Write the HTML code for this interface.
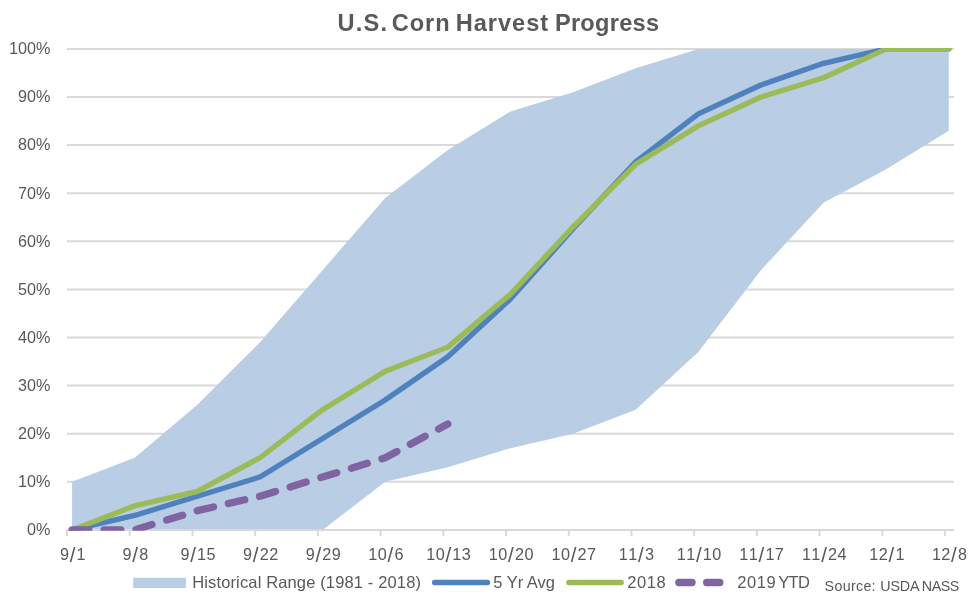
<!DOCTYPE html>
<html><head><meta charset="utf-8"><title>U.S. Corn Harvest Progress</title>
<style>
html,body{margin:0;padding:0;background:#fff;}
body{width:976px;height:601px;overflow:hidden;}
svg{display:block;}
text{font-family:"Liberation Sans",sans-serif;fill:#595959;}
.t{font-size:16.2px;}
</style></head><body>
<svg width="976" height="601" viewBox="0 0 976 601">
<defs><clipPath id="plot"><rect x="60" y="47.9" width="900" height="482.9"/></clipPath></defs>
<rect width="976" height="601" fill="#fff"/>
<g font-size="23.6" font-weight="bold">
<text x="337.4" y="31.4" textLength="49.6" lengthAdjust="spacing">U.S.</text>
<text x="391.7" y="31.4" textLength="58.0" lengthAdjust="spacing">Corn</text>
<text x="455.7" y="31.4" textLength="92.4" lengthAdjust="spacing">Harvest</text>
<text x="554.9" y="31.4" textLength="104.2" lengthAdjust="spacing">Progress</text>
</g>
<g stroke="#d9d9d9" stroke-width="2" fill="none">
<line x1="67" y1="529.90" x2="954" y2="529.90"/>
<line x1="67" y1="481.80" x2="954" y2="481.80"/>
<line x1="67" y1="433.70" x2="954" y2="433.70"/>
<line x1="67" y1="385.60" x2="954" y2="385.60"/>
<line x1="67" y1="337.50" x2="954" y2="337.50"/>
<line x1="67" y1="289.40" x2="954" y2="289.40"/>
<line x1="67" y1="241.30" x2="954" y2="241.30"/>
<line x1="67" y1="193.20" x2="954" y2="193.20"/>
<line x1="67" y1="145.10" x2="954" y2="145.10"/>
<line x1="67" y1="97.00" x2="954" y2="97.00"/>
<line x1="67" y1="48.90" x2="954" y2="48.90"/>
<line x1="67.05" y1="529.90" x2="67.05" y2="535.90"/>
<line x1="129.76" y1="529.90" x2="129.76" y2="535.90"/>
<line x1="192.47" y1="529.90" x2="192.47" y2="535.90"/>
<line x1="255.18" y1="529.90" x2="255.18" y2="535.90"/>
<line x1="317.89" y1="529.90" x2="317.89" y2="535.90"/>
<line x1="380.60" y1="529.90" x2="380.60" y2="535.90"/>
<line x1="443.31" y1="529.90" x2="443.31" y2="535.90"/>
<line x1="506.02" y1="529.90" x2="506.02" y2="535.90"/>
<line x1="568.73" y1="529.90" x2="568.73" y2="535.90"/>
<line x1="631.44" y1="529.90" x2="631.44" y2="535.90"/>
<line x1="694.15" y1="529.90" x2="694.15" y2="535.90"/>
<line x1="756.86" y1="529.90" x2="756.86" y2="535.90"/>
<line x1="819.57" y1="529.90" x2="819.57" y2="535.90"/>
<line x1="882.28" y1="529.90" x2="882.28" y2="535.90"/>
<line x1="944.99" y1="529.90" x2="944.99" y2="535.90"/>
</g>
<text class="t" x="50.4" y="535.20" text-anchor="end">0%</text>
<text class="t" x="50.4" y="487.10" text-anchor="end">10%</text>
<text class="t" x="50.4" y="439.00" text-anchor="end">20%</text>
<text class="t" x="50.4" y="390.90" text-anchor="end">30%</text>
<text class="t" x="50.4" y="342.80" text-anchor="end">40%</text>
<text class="t" x="50.4" y="294.70" text-anchor="end">50%</text>
<text class="t" x="50.4" y="246.60" text-anchor="end">60%</text>
<text class="t" x="50.4" y="198.50" text-anchor="end">70%</text>
<text class="t" x="50.4" y="150.40" text-anchor="end">80%</text>
<text class="t" x="50.4" y="102.30" text-anchor="end">90%</text>
<text class="t" x="50.4" y="54.20" text-anchor="end">100%</text>
<polygon points="72.10,481.80 134.72,457.75 197.34,404.84 259.96,342.31 322.58,270.16 385.20,198.01 447.82,149.91 510.44,111.43 573.06,92.19 635.68,68.14 698.30,48.90 760.92,48.90 823.54,48.90 886.16,48.90 948.78,48.90 948.78,130.67 886.16,169.15 823.54,202.82 760.92,270.16 698.30,351.93 635.68,409.65 573.06,433.70 510.44,448.13 447.82,467.37 385.20,481.80 322.58,529.90 259.96,529.90 197.34,529.90 134.72,529.90 72.10,529.90" fill="#b9cde5"/>
<line x1="67" y1="529.90" x2="954" y2="529.90" stroke="#d9d9d9" stroke-width="2"/>
<g clip-path="url(#plot)" fill="none" stroke-linecap="round" stroke-linejoin="round">
<polyline points="72.10,529.90 134.72,515.47 197.34,496.23 259.96,476.99 322.58,438.51 385.20,400.03 447.82,356.74 510.44,299.02 573.06,228.79 635.68,161.94 698.30,113.84 760.92,84.98 823.54,63.33 886.16,48.90 948.78,48.90" stroke="#4f81bd" stroke-width="5.33"/>
<polyline points="72.10,529.90 134.72,505.85 197.34,491.42 259.96,457.75 322.58,409.65 385.20,371.17 447.82,347.12 510.44,294.21 573.06,226.87 635.68,164.34 698.30,125.86 760.92,97.00 823.54,77.76 886.16,48.90 948.78,48.90" stroke="#9bbb59" stroke-width="5.33"/>
<polyline points="72.10,529.90 134.72,529.90 197.34,510.66 259.96,496.23 322.58,476.99 385.20,457.75 447.82,424.08" stroke="#8064a2" stroke-width="7.3" stroke-dasharray="16.7 15.3"/>
</g>
<text class="t" style="font-kerning:none" x="73.00" y="559.7" text-anchor="middle" letter-spacing="0.45">9<tspan font-size="20.5" dy="2.6" dx="0.3" letter-spacing="1.2">/</tspan><tspan dy="-2.6">1</tspan></text>
<text class="t" style="font-kerning:none" x="135.62" y="559.7" text-anchor="middle" letter-spacing="0.45">9<tspan font-size="20.5" dy="2.6" dx="0.3" letter-spacing="1.2">/</tspan><tspan dy="-2.6">8</tspan></text>
<text class="t" style="font-kerning:none" x="198.24" y="559.7" text-anchor="middle" letter-spacing="0.45">9<tspan font-size="20.5" dy="2.6" dx="0.3" letter-spacing="1.2">/</tspan><tspan dy="-2.6">15</tspan></text>
<text class="t" style="font-kerning:none" x="260.86" y="559.7" text-anchor="middle" letter-spacing="0.45">9<tspan font-size="20.5" dy="2.6" dx="0.3" letter-spacing="1.2">/</tspan><tspan dy="-2.6">22</tspan></text>
<text class="t" style="font-kerning:none" x="323.48" y="559.7" text-anchor="middle" letter-spacing="0.45">9<tspan font-size="20.5" dy="2.6" dx="0.3" letter-spacing="1.2">/</tspan><tspan dy="-2.6">29</tspan></text>
<text class="t" style="font-kerning:none" x="386.10" y="559.7" text-anchor="middle" letter-spacing="0.45">10<tspan font-size="20.5" dy="2.6" dx="0.3" letter-spacing="1.2">/</tspan><tspan dy="-2.6">6</tspan></text>
<text class="t" style="font-kerning:none" x="448.72" y="559.7" text-anchor="middle" letter-spacing="0.45">10<tspan font-size="20.5" dy="2.6" dx="0.3" letter-spacing="1.2">/</tspan><tspan dy="-2.6">13</tspan></text>
<text class="t" style="font-kerning:none" x="511.34" y="559.7" text-anchor="middle" letter-spacing="0.45">10<tspan font-size="20.5" dy="2.6" dx="0.3" letter-spacing="1.2">/</tspan><tspan dy="-2.6">20</tspan></text>
<text class="t" style="font-kerning:none" x="573.96" y="559.7" text-anchor="middle" letter-spacing="0.45">10<tspan font-size="20.5" dy="2.6" dx="0.3" letter-spacing="1.2">/</tspan><tspan dy="-2.6">27</tspan></text>
<text class="t" style="font-kerning:none" x="636.58" y="559.7" text-anchor="middle" letter-spacing="0.45">11<tspan font-size="20.5" dy="2.6" dx="0.3" letter-spacing="1.2">/</tspan><tspan dy="-2.6">3</tspan></text>
<text class="t" style="font-kerning:none" x="699.20" y="559.7" text-anchor="middle" letter-spacing="0.45">11<tspan font-size="20.5" dy="2.6" dx="0.3" letter-spacing="1.2">/</tspan><tspan dy="-2.6">10</tspan></text>
<text class="t" style="font-kerning:none" x="761.82" y="559.7" text-anchor="middle" letter-spacing="0.45">11<tspan font-size="20.5" dy="2.6" dx="0.3" letter-spacing="1.2">/</tspan><tspan dy="-2.6">17</tspan></text>
<text class="t" style="font-kerning:none" x="824.44" y="559.7" text-anchor="middle" letter-spacing="0.45">11<tspan font-size="20.5" dy="2.6" dx="0.3" letter-spacing="1.2">/</tspan><tspan dy="-2.6">24</tspan></text>
<text class="t" style="font-kerning:none" x="887.06" y="559.7" text-anchor="middle" letter-spacing="0.45">12<tspan font-size="20.5" dy="2.6" dx="0.3" letter-spacing="1.2">/</tspan><tspan dy="-2.6">1</tspan></text>
<text class="t" style="font-kerning:none" x="949.68" y="559.7" text-anchor="middle" letter-spacing="0.45">12<tspan font-size="20.5" dy="2.6" dx="0.3" letter-spacing="1.2">/</tspan><tspan dy="-2.6">8</tspan></text>
<rect x="133.2" y="577.8" width="52.7" height="10.2" fill="#b9cde5"/>
<g font-size="16.5">
<text x="192.2" y="588" textLength="228.8" lengthAdjust="spacing">Historical Range (1981 - 2018)</text>
<text x="493.3" y="588" textLength="61.6" lengthAdjust="spacing">5 Yr Avg</text>
<text x="627.3" y="588" textLength="38.4" lengthAdjust="spacing">2018</text>
<text x="737.3" y="588" textLength="38.4" lengthAdjust="spacing">2019</text>
<text x="778.3" y="588" textLength="31.6" lengthAdjust="spacing">YTD</text>
</g>
<line x1="434.6" y1="582.5" x2="487.5" y2="582.5" stroke="#4f81bd" stroke-width="5.33" stroke-linecap="round"/>
<line x1="568.8" y1="582.5" x2="621.2" y2="582.5" stroke="#9bbb59" stroke-width="5.33" stroke-linecap="round"/>
<line x1="678.85" y1="582.5" x2="720" y2="582.5" stroke="#8064a2" stroke-width="7.3" stroke-linecap="round" stroke-dasharray="13.2 14.6"/>
<g font-size="14.3">
<text x="824.6" y="590.5" textLength="51" lengthAdjust="spacing">Source:</text>
<text x="880.3" y="590.5" textLength="39.2" lengthAdjust="spacing">USDA</text>
<text x="921.8" y="590.5" textLength="37.6" lengthAdjust="spacing">NASS</text>
</g>
</svg></body></html>
